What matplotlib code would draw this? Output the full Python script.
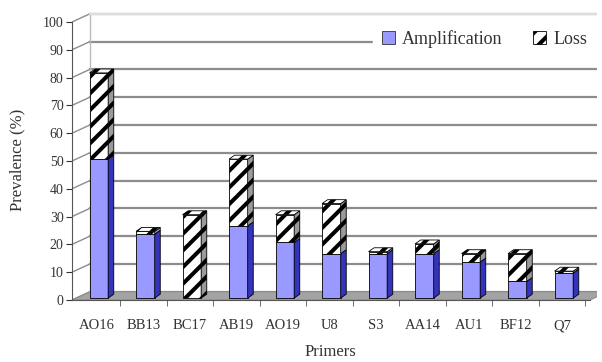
import numpy as np
import matplotlib
matplotlib.use("Agg")
import matplotlib.pyplot as plt
from matplotlib.patches import Polygon, Rectangle, Patch

primers = ["AO16", "BB13", "BC17", "AB19", "AO19", "U8", "S3", "AA14", "AU1", "BF12", "Q7"]
amplification = [50, 23, 0, 26, 20, 16, 16, 16, 13, 6, 9]
loss = [31, 1, 30, 24, 10, 18, 0.7, 3.5, 3, 10, 0.7]
yticks = [0, 10, 20, 30, 40, 50, 60, 70, 80, 90, 100]

plt.rcParams["font.family"] = ["Liberation Serif", "DejaVu Serif"]
plt.rcParams["hatch.linewidth"] = 2.9

# couleurs
c_amp = "#9999ff"
c_amp_side = "#3333bb"
c_amp_top = "#bbbbff"
c_grid = "#8c8c8c"
c_floor = "#a3a3a3"

# profondeur (unites data)
x0, x1 = -0.54, 10.6
dxw, dyw = 0.39, 3.0      # murs
dxb, dyb = 0.12, 1.4      # barres
base = 0.7
bw = 0.40
shift = 0.04

fig = plt.figure(figsize=(6.02, 3.62), dpi=100)
ax = fig.add_axes([71.9 / 602, 56.4 / 362, (10.75 - x0) * 46.5 / 602, 106 * 2.78 / 362])
ax.set_xlim(x0, 10.75)
ax.set_ylim(-2, 104)

# mur du fond + grille
ax.add_patch(Rectangle((x0 + dxw, dyw), 20, 100, facecolor="white", edgecolor="none", zorder=0))
for v in yticks:
    ax.plot([x0 + dxw, 12], [v + dyw, v + dyw], color=c_grid, lw=1.6, zorder=1)
    ax.plot([x0, x0 + dxw], [v, v + dyw], color=c_grid, lw=1.0, zorder=1)
ax.plot([x0 + dxw, x0 + dxw], [dyw, 100 + dyw], color="#bbbbbb", lw=1.0, zorder=1)
ax.plot([x0 + dxw, 12], [100 + dyw, 100 + dyw], color="#dddddd", lw=1.5, zorder=1)

# sol
ax.add_patch(Polygon([[x0, 0], [x1, 0], [x1 + dxw, dyw], [x0 + dxw, dyw]],
                     closed=True, facecolor=c_floor, edgecolor=c_grid, lw=0.8, zorder=2))


def box(xl, y0, y1, face, side, top, hatch=None, show_top=True):
    xr = xl + bw
    ax.add_patch(Rectangle((xl, y0), bw, y1 - y0, facecolor=face, edgecolor="black",
                           lw=0.6, hatch=hatch, zorder=3))
    ax.add_patch(Polygon([[xr, y0], [xr + dxb, y0 + dyb], [xr + dxb, y1 + dyb], [xr, y1]],
                         closed=True, facecolor=side, edgecolor="black", lw=0.6,
                         hatch=hatch, zorder=3))
    if show_top:
        ax.add_patch(Polygon([[xl, y1], [xr, y1], [xr + dxb, y1 + dyb], [xl + dxb, y1 + dyb]],
                             closed=True, facecolor=top, edgecolor="black", lw=0.6,
                             hatch=hatch, zorder=3))


for i in range(len(primers)):
    xl = i - bw / 2 + shift
    a = amplification[i]
    l = loss[i]
    if a > 0:
        box(xl, base, base + a, c_amp, c_amp_side, c_amp_top, show_top=(l == 0))
    if l > 0:
        box(xl, base + a, base + a + l, "white", "#9a9a9a", "white", hatch="//")

# axes
for s in ["top", "right"]:
    ax.spines[s].set_visible(False)
ax.spines["left"].set_bounds(0, 100)
ax.spines["left"].set_color("#555555")
ax.spines["bottom"].set_position(("data", 0))
ax.spines["bottom"].set_bounds(x0, x1)
ax.spines["bottom"].set_color("#555555")
ax.set_yticks(yticks)
ax.set_yticklabels([str(v) for v in yticks], fontsize=10)
ax.tick_params(axis="y", length=4, pad=2, colors="#333333")
ax.set_xticks(range(len(primers)))
ax.set_xticklabels(primers, fontsize=10.5)
ax.set_xticks(np.arange(len(primers)) + 0.5, minor=True)
ax.tick_params(axis="x", which="major", length=0, pad=14, colors="#333333")
ax.tick_params(axis="x", which="minor", length=4, color="#555555")

fig.text(17 / 602, 1 - 160 / 362, "Prevalence (%)", rotation=90, ha="center", va="center",
         fontsize=12, color="#333333")
fig.text(330 / 602, 1 - 352 / 362, "Primers", ha="center", va="center", fontsize=12, color="#333333")

handles = [Patch(facecolor=c_amp, edgecolor="#333333", lw=0.6),
           Patch(facecolor="white", edgecolor="black", hatch="//", lw=0.6)]
leg = fig.legend(handles, ["Amplification", "Loss"], loc="center", bbox_to_anchor=(0.805, 1 - 39 / 362),
                 ncol=2, fontsize=13, frameon=True, facecolor="white", edgecolor="white",
                 framealpha=1, handlelength=0.7, handleheight=0.7, handletextpad=0.4,
                 columnspacing=1.7, borderpad=0.5)
for t in leg.get_texts():
    t.set_color("#333333")

fig.savefig("out.png", dpi=100)
